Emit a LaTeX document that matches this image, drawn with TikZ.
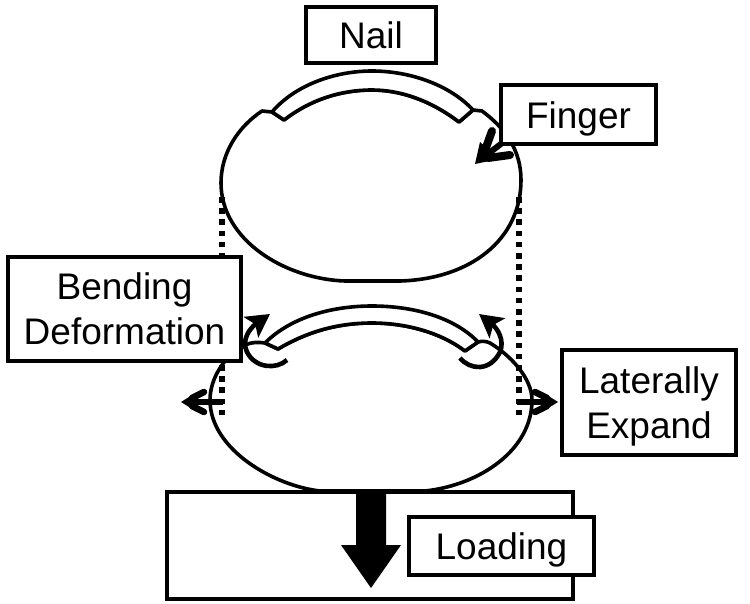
\documentclass[tikz,border=0pt]{standalone}
\usepackage{fontspec}
\setmainfont{Liberation Sans}
\usetikzlibrary{arrows.meta}
\newcommand{\lowered}[1]{\rule{0pt}{#1pt}}
\tikzset{
  labelbox/.style={draw=black,line width=3.2pt,fill=white,inner sep=0pt,align=center,font=\fontsize{37}{45}\selectfont},
  outline/.style={draw=black,line width=3.6pt,fill=white,line join=round},
  guide/.style={draw=black,line width=5.6pt,dash pattern=on 5.6pt off 5.6pt},
  turn/.style={draw=black,line width=4.6pt,-{Stealth[length=23pt,width=25pt,inset=5pt]}},
  push/.style={draw=black,line width=5.4pt},
  barb/.style={draw=black,line width=6.5pt,line cap=round},
  heavybarb/.style={draw=black,line width=8pt,line cap=round}
}
\begin{document}
\begin{tikzpicture}[x=1pt,y=-1pt]
\useasboundingbox (0,0) rectangle (750,604);

% Platform under the pressed finger
\node[labelbox,minimum width=406pt,minimum height=107pt] (base) at (370,545.5) {};

% Guides from the relaxed width down to the pressed finger
\coordinate (guideLA) at (222,197);
\coordinate (guideLB) at (222,416);
\coordinate (guideRA) at (519,197);
\coordinate (guideRB) at (519,416);

% Relaxed finger and nail
\draw[outline] (262,111)
  .. controls (238,127) and (221,153) .. (221,183)
  .. controls (221,240) and (285,279) .. (345,281)
  .. controls (362,281) and (385,281) .. (400,281)
  .. controls (470,279) and (521,240) .. (521,180)
  .. controls (521,150) and (505,128) .. (482,111)
  -- (473,110) -- (459,122)
  .. controls (430,100) and (400,90) .. (372,90)
  .. controls (340,90) and (310,100) .. (284,120)
  -- (272,112) -- cycle;
\draw[outline] (272,112)
  .. controls (295,85) and (335,71) .. (372,71)
  .. controls (410,71) and (450,85) .. (473,110)
  -- (459,122)
  .. controls (430,100) and (400,90) .. (372,90)
  .. controls (340,90) and (310,100) .. (284,120)
  -- cycle;

% Pressed finger and nail
\draw[outline] (265,343)
  .. controls (258,342) and (252,342) .. (245,345)
  .. controls (225,355) and (210,378) .. (210,400)
  .. controls (210,450) and (275,486) .. (320,491)
  -- (425,491)
  .. controls (480,485) and (532,450) .. (532,400)
  .. controls (532,378) and (510,355) .. (490,343)
  .. controls (486,341) and (482,341) .. (478,342)
  -- (465,351)
  .. controls (440,332) and (405,323) .. (372,323)
  .. controls (335,323) and (305,333) .. (278,349)
  -- cycle;
\draw[outline] (265,343)
  .. controls (290,318) and (330,306) .. (372,306)
  .. controls (415,306) and (455,318) .. (478,342)
  -- (465,351)
  .. controls (440,332) and (405,323) .. (372,323)
  .. controls (335,323) and (305,333) .. (278,349)
  -- cycle;

\draw[guide] (guideLA) -- (guideLB);
\draw[guide] (guideRA) -- (guideRB);

% Finger pointer, its shaft running under the label
\coordinate (fingerTail) at (506,140);
\coordinate (fingerTip) at (475,164);
\draw[line width=6pt,draw=black] (fingerTail) -- (484,157);
\fill[black] (fingerTip) -- (480,142) -- (499,159) -- cycle;
\draw[heavybarb] (492,131) -- (484,153) (510,155) -- (488,158);

% Load arrow
\coordinate (loadTop) at (371,491);
\coordinate (loadTip) at (371,588);
\fill[black] (356,491) -- (386,491) -- (386,545) -- (401,545) -- (loadTip) -- (341,545) -- (356,545) -- cycle;

% Lateral expansion arrows
\coordinate (expLS) at (223,402);
\coordinate (expLT) at (181,402);
\coordinate (expRS) at (517,402);
\coordinate (expRT) at (558,402);
\draw[push] (expLS) -- (190,402);
\draw[push] (expRS) -- (549,402);
\fill[black] (expLT) -- (197,392) -- (197,412) -- cycle;
\fill[black] (expRT) -- (542,392) -- (542,412) -- cycle;
\draw[barb] (204,392) -- (192,398) (204,412) -- (192,406);
\draw[barb] (535,392) -- (547,398) (535,412) -- (547,406);

% Bending arrows at the nail edges
\draw[turn] (287,360)
  .. controls (276,370) and (255,368) .. (247,352)
  .. controls (241,340) and (250,328) .. (270,314);
\draw[turn] (460,358)
  .. controls (470,370) and (490,372) .. (500,352)
  .. controls (505,340) and (497,328) .. (479,314);

% Labels
\node[labelbox,minimum width=130pt,minimum height=56pt] (nail) at (371,35) {Nail};
\node[labelbox,minimum width=155pt,minimum height=59pt] (finger) at (578.5,114.5) {\lowered{35}Finger};
\node[labelbox,minimum width=233pt,minimum height=104pt] (bending) at (124.5,309) {Bending\\Deformation};
\node[labelbox,minimum width=174pt,minimum height=105pt] (lateral) at (649,402.5) {\lowered{35}Laterally\\Expand};
\node[labelbox,minimum width=185pt,minimum height=58pt] (loading) at (501.5,546) {\lowered{35}Loading};
\end{tikzpicture}
\end{document}
